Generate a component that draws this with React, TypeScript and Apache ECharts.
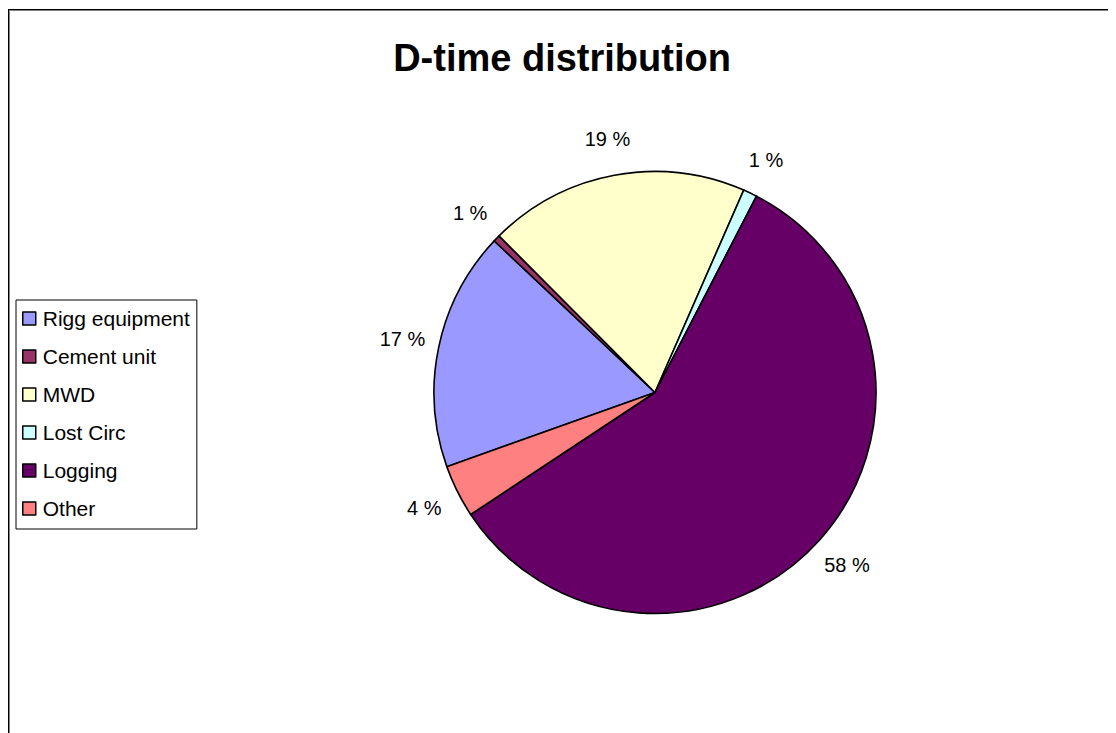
import React, { useEffect, useRef } from "react";
import * as echarts from "echarts";

const titleText = "D-time distribution";
const categories = ["Rigg equipment", "Cement unit", "MWD", "Lost Circ", "Logging", "Other"];
const shares = [17.48, 0.5, 19.04, 1.02, 58.1, 3.86];
const sliceColors = ["#9999FF", "#993366", "#FFFFCC", "#CCFFFF", "#660066", "#FF8080"];

const FONT = "'Liberation Sans', Arial, sans-serif";

export default function App() {
  const ref = useRef<HTMLDivElement>(null);
  useEffect(() => {
    if (!ref.current) return;
    const chart = echarts.init(ref.current, null, { renderer: "svg" });
    const data = categories.map((name, i) => ({
      name,
      value: shares[i],
      itemStyle: { color: sliceColors[i] },
    }));
    const center = [647, 384.5];
    const startAngle = 199.6;
    chart.setOption({
      animation: false,
      backgroundColor: "#ffffff",
      title: {
        text: titleText,
        left: "center",
        top: 26,
        textStyle: { fontFamily: FONT, fontSize: 38, fontWeight: "bold", color: "#000" },
      },
      legend: {
        orient: "vertical",
        left: 8,
        top: 292,
        data: categories,
        icon: "rect",
        itemWidth: 13,
        itemHeight: 13,
        itemGap: 17,
        padding: [8, 7, 10, 6],
        borderColor: "#000",
        borderWidth: 1,
        selectedMode: false,
        itemStyle: { borderColor: "#000", borderWidth: 1.5 },
        textStyle: { fontFamily: FONT, fontSize: 21, lineHeight: 21, color: "#000", padding: [0, 0, 0, 2] },
      },
      graphic: [
        { type: "line", shape: { x1: 0, y1: 1.5, x2: 1108, y2: 1.5 }, style: { stroke: "#000", lineWidth: 1 }, silent: true },
        { type: "line", shape: { x1: 1, y1: 2.5, x2: 1108, y2: 2.5 }, style: { stroke: "#808080", lineWidth: 1 }, silent: true },
        { type: "line", shape: { x1: 0.5, y1: 1, x2: 0.5, y2: 725 }, style: { stroke: "#000", lineWidth: 1 }, silent: true },
        { type: "line", shape: { x1: 1.5, y1: 2, x2: 1.5, y2: 725 }, style: { stroke: "#808080", lineWidth: 1 }, silent: true },
      ],
      series: [
        {
          type: "pie",
          name: "D-time",
          center,
          radius: [0, 221],
          startAngle,
          clockwise: true,
          avoidLabelOverlap: false,
          label: { show: false },
          labelLine: { show: false },
          itemStyle: { borderColor: "#000", borderWidth: 1.6 },
          emphasis: { disabled: true },
          silent: true,
          data,
        },
        {
          type: "pie",
          name: "labels",
          center,
          radius: [221, 289],
          startAngle,
          clockwise: true,
          avoidLabelOverlap: false,
          silent: true,
          legendHoverLink: false,
          emphasis: { disabled: true },
          itemStyle: { color: "rgba(0,0,0,0)", borderWidth: 0 },
          labelLine: { show: false },
          label: {
            show: true,
            position: "inside",
            fontFamily: FONT,
            fontSize: 20,
            color: "#000",
            formatter: (p: any) => `${Math.round(p.percent)} %`,
          },
          data: categories.map((name, i) => ({ name, value: shares[i] })),
        },
      ],
    });
    return () => chart.dispose();
  }, []);
  return <div ref={ref} style={{ width: 1108, height: 725 }} />;
}
